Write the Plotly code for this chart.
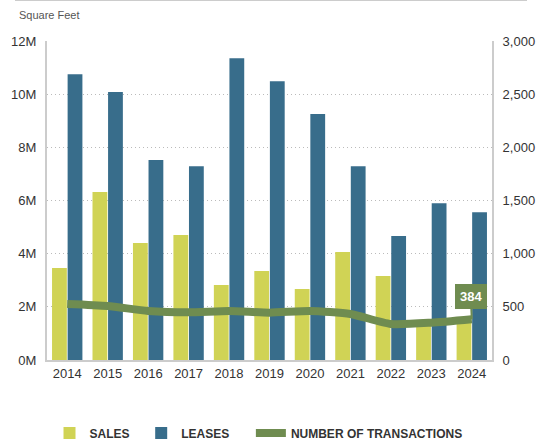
import plotly.graph_objects as go

years = ["2014", "2015", "2016", "2017", "2018", "2019", "2020", "2021", "2022", "2023", "2024"]
sales = [3.46e6, 6.32e6, 4.40e6, 4.70e6, 2.82e6, 3.35e6, 2.67e6, 4.06e6, 3.16e6, 1.35e6, 1.45e6]
leases = [10.75e6, 10.08e6, 7.52e6, 7.29e6, 11.35e6, 10.49e6, 9.25e6, 7.29e6, 4.66e6, 5.90e6, 5.56e6]
transactions = [527, 508, 461, 448, 461, 445, 461, 433, 339, 351, 384]
left_ticks = [0, 2e6, 4e6, 6e6, 8e6, 10e6, 12e6]
left_labels = ["0M", "2M", "4M", "6M", "8M", "10M", "12M"]

SALES_C = "#d0d355"
LEASE_C = "#386d8b"
LINE_C = "#6f8c50"
FONT = "Liberation Sans Narrow, Arial Narrow, Liberation Sans, Arial"
NB = "\u00a0"

fig = go.Figure()
fig.add_trace(go.Bar(x=years, y=sales, name="SALES" + NB * 2,
                     marker=dict(color=SALES_C, line=dict(width=0))))
fig.add_trace(go.Bar(x=years, y=leases, name="LEASES" + NB * 5,
                     marker=dict(color=LEASE_C, line=dict(width=0))))
fig.add_trace(go.Scatter(x=years, y=transactions, name="NUMBER OF TRANSACTIONS", yaxis="y2",
                         mode="lines", line=dict(color=LINE_C, width=8, shape="spline", smoothing=0.6)))

last = len(years) - 1
fig.add_annotation(x=last, y=transactions[last], xref="x", yref="y2",
                   text="<b>%d</b>" % transactions[last], showarrow=True, arrowhead=0, arrowwidth=2,
                   arrowcolor=LINE_C, ax=-1, ay=-23, bgcolor=LINE_C, bordercolor=LINE_C,
                   borderpad=4, font=dict(color="white", size=13, family=FONT))

fig.add_annotation(xref="paper", yref="paper", x=(17 - 47) / 445, y=1 + (41 - 15) / 319,
                   text="Square Feet", showarrow=False, xanchor="left", yanchor="middle",
                   font=dict(size=11, color="#555", family=FONT))

fig.add_shape(type="line", xref="paper", yref="paper", x0=(15 - 47) / 445, x1=(527 - 47) / 445,
              y0=1 + 41 / 319, y1=1 + 41 / 319, line=dict(color="#cccccc", width=2))

fig.update_layout(
    width=539, height=443,
    margin=dict(l=47, r=47, t=41, b=83, pad=0, autoexpand=False),
    paper_bgcolor="white", plot_bgcolor="white",
    font=dict(family=FONT, size=13, color="#333"),
    barmode="group", bargap=0.23, bargroupgap=0.05,
    showlegend=True,
    legend=dict(orientation="h", x=0.4796, xanchor="center", xref="container",
                y=1 - 433 / 443, yanchor="middle", yref="container",
                font=dict(size=12, color="#333", family=FONT, weight="bold"), itemwidth=30,
                traceorder="normal", tracegroupgap=0),
    xaxis=dict(type="category", range=[-0.5, 10.5], showline=True, linecolor="#cccccc", linewidth=2,
               ticks="", automargin=False, tickfont=dict(size=13, color="#333")),
    yaxis=dict(range=[0, 12e6], tickvals=left_ticks, ticktext=left_labels,
               showline=True, linecolor="#cccccc", linewidth=2, automargin=False,
               showgrid=True, gridcolor="#bbbbbb", griddash="1px,3px", gridwidth=1,
               zeroline=False, ticks="", ticklabelstandoff=6,
               tickfont=dict(size=13, color="#333")),
    yaxis2=dict(range=[0, 3000], dtick=500, tickformat=",", overlaying="y", side="right",
                showline=True, linecolor="#cccccc", linewidth=2, showgrid=False, automargin=False,
                zeroline=False, ticks="", ticklabelstandoff=6,
                tickfont=dict(size=13, color="#333")),
)

fig.write_html("out.html")
